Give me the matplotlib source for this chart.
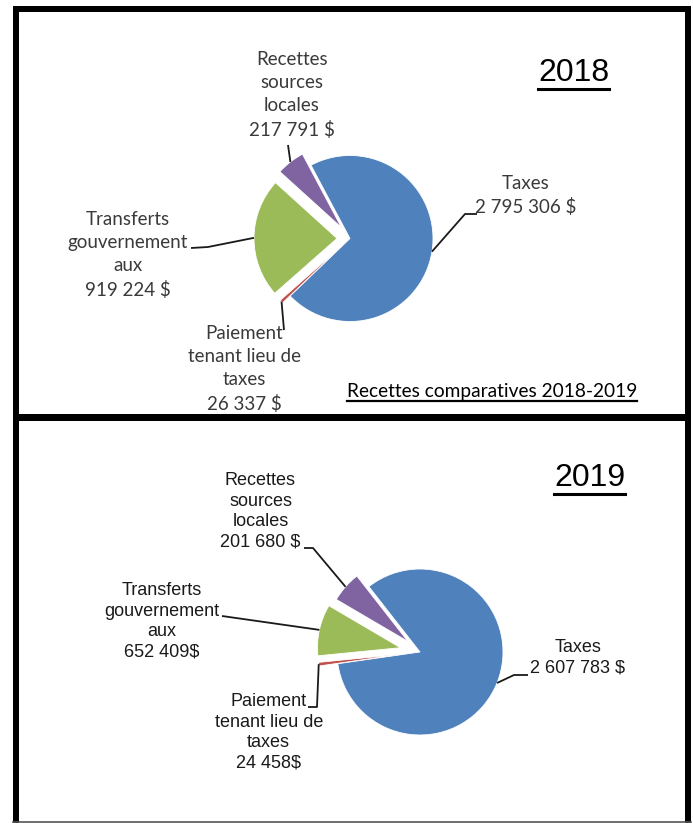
import matplotlib
matplotlib.use("Agg")
import numpy as np
from matplotlib import pyplot as plt
from matplotlib.patches import Rectangle

# slice order is the order the source draws them, clockwise from the first edge
categories = ["Taxes", "Paiement tenant lieu de taxes", "Transferts gouvernement aux", "Recettes sources locales"]
colors = ["#4F81BD", "#C0504D", "#9BBB59", "#8064A2"]

values_2018 = [2795306, 26337, 919224, 217791]
labels_2018 = ["Taxes\n2 795 306 $", "Paiement\ntenant lieu de\ntaxes\n26 337 $",
               "Transferts\ngouvernement\naux\n919 224 $", "Recettes\nsources\nlocales\n217 791 $"]

# the 2019 pie in the source is not drawn to the printed amounts,
# so the slice sizes are the shares (percent of circle)
shares_2019 = [83.3, 0.7, 10.0, 6.0]
labels_2019 = ["Taxes\n2 607 783 $", "Paiement\ntenant lieu de\ntaxes\n24 458$",
               "Transferts\ngouvernement\naux\n652 409$", "Recettes\nsources\nlocales\n201 680 $"]

W, H = 693, 823
def Y(y):
  return H - y

fig = plt.figure(figsize=(W / 100, H / 100), dpi=100)
ax = fig.add_axes([0, 0, 1, 1])

def draw_pie(vals, center, start, explode):
  # explode is in data units (pixels here)
  wedges, _ = ax.pie(vals, colors=colors, startangle=start, counterclock=False,
                     explode=explode, radius=83, center=center, frame=True,
                     wedgeprops=dict(edgecolor="white", linewidth=0.6))
  return wedges

def arc_point(w):
  mid = np.deg2rad((w.theta1 + w.theta2) / 2)
  cx, cy = w.center
  return cx + w.r * np.cos(mid), cy + w.r * np.sin(mid)

def leader(w, pts):
  x0, y0 = arc_point(w)
  xs = [x0] + [p[0] for p in pts]
  ys = [y0] + [Y(p[1]) for p in pts]
  ax.plot(xs, ys, color="#1a1a1a", lw=1.3, solid_capstyle="butt")

# ---- 2018 ----
w18 = draw_pie(values_2018, (350, Y(238.5)), 118, [0, 10, 13, 14])
f18 = dict(family=["Lato", "DejaVu Sans"], fontsize=13.5, color="#3a3a3a",
           ha="center", va="center", multialignment="center", linespacing=1.42)
ax.text(526, Y(195.5), labels_2018[0], **f18)
ax.text(244, Y(369), labels_2018[1], **f18)
ax.text(128, Y(255), labels_2018[2], **f18)
ax.text(292, Y(95), labels_2018[3], **f18)
leader(w18[0], [(465, 214), (477, 214)])
leader(w18[1], [(284, 330)])
leader(w18[2], [(208, 247), (191, 248)])
leader(w18[3], [(288, 145)])

# ---- 2019 ----
w19 = draw_pie(shares_2019, (420, Y(652)), 128, [0, 19, 20, 16])
f19 = dict(family=["Liberation Sans", "DejaVu Sans"], fontsize=13, color="#1a1a1a",
           ha="center", va="center", multialignment="center", linespacing=1.28)
ax.text(578, Y(658), labels_2019[0], **f19)
ax.text(268.7, Y(732.5), labels_2019[1], **f19)
ax.text(162, Y(621.5), labels_2019[2], **f19)
ax.text(260.5, Y(511.5), labels_2019[3], **f19)
leader(w19[0], [(514, 675), (528, 675)])
leader(w19[1], [(317, 707), (308, 707)])
leader(w19[2], [(222, 616)])
leader(w19[3], [(313, 548), (304, 548)])

# ---- titles (underlined) ----
titles = []
titles.append(ax.text(573.5, Y(72.5), "2018", family="Liberation Sans", fontsize=23,
                      ha="center", va="center", color="black"))
titles.append(ax.text(589.5, Y(477.5), "2019", family="Liberation Sans", fontsize=23,
                      ha="center", va="center", color="black"))
titles.append(ax.text(347, Y(396.5), "Recettes comparatives 2018-2019",
                      family=["Lato", "DejaVu Sans"], fontsize=13.8, ha="left",
                      va="baseline", color="black"))

# panel frames
for x, y, w, h in [(13, 6, 678, 6), (13, 414, 678, 7), (13, 6, 6, 817), (685, 6, 6, 817)]:
  ax.add_patch(Rectangle((x, Y(y + h)), w, h, color="black", lw=0))
ax.plot([13, 691], [Y(822), Y(822)], color="#555555", lw=1.2)

ax.set_xlim(0, W)
ax.set_ylim(0, H)
ax.axis("off")

fig.canvas.draw()
renderer = fig.canvas.get_renderer()
inv = ax.transData.inverted()
for t in titles:
  bb = t.get_window_extent(renderer)
  (x0, y0), (x1, y1) = inv.transform([(bb.x0, bb.y0), (bb.x1, bb.y1)])
  if t.get_va() == "baseline":
    ax.plot([x0, x1], [Y(400.5), Y(400.5)], color="black", lw=1.6)
  else:
    ax.plot([x0, x1], [y0 - 1, y0 - 1], color="black", lw=2.2)

fig.savefig("out.png", dpi=100)
